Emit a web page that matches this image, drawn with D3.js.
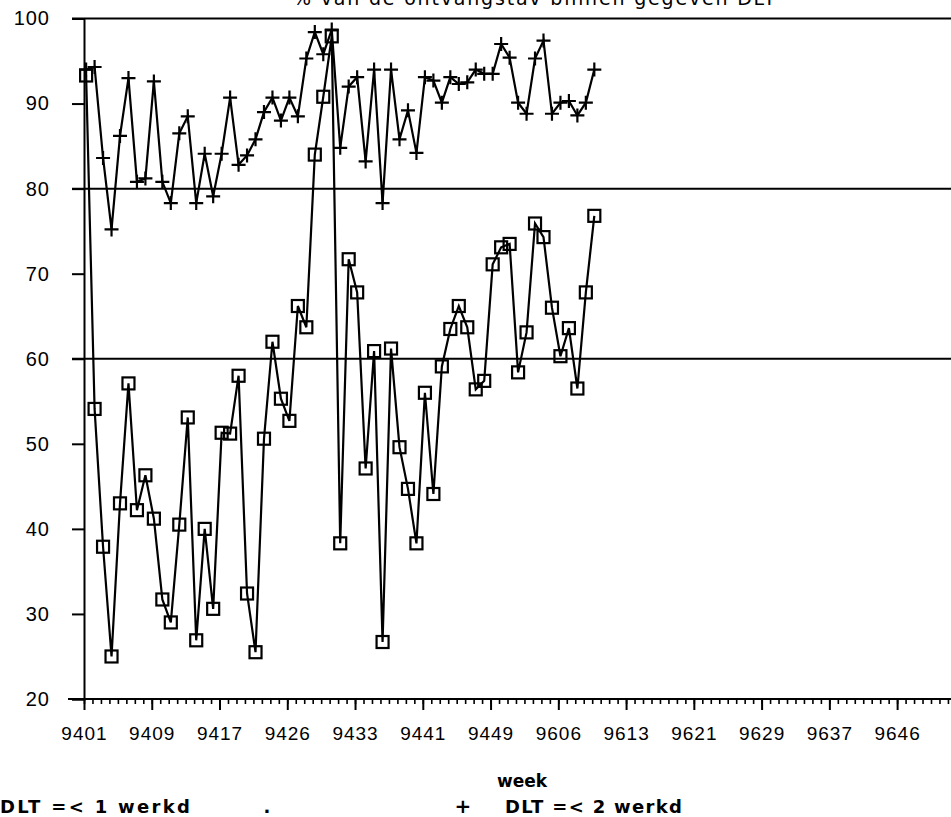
<!DOCTYPE html>
<html>
<head>
<meta charset="utf-8">
<script src="https://cdn.jsdelivr.net/npm/d3@7"></script>
<style>
  body { margin: 0; background: #fff; }
  svg { display: block; font-family: "DejaVu Sans", sans-serif; }
</style>
</head>
<body>
<svg id="chart" width="951" height="817"></svg>
<script>
// weeks are counted from 9401 (index 0), one tick per week
const weekCount = 103;
const tickLabels = ['9401', '9409', '9417', '9426', '9433', '9441', '9449', '9606', '9613', '9621', '9629', '9637', '9646'];
const yTicks = [30, 40, 50, 70, 90];
const yGrid = [60, 80, 100];

// DLT =< 1 werkd (squares)
const dlt1 = [93.3, 54.1, 37.9, 25.0, 43.0, 57.1, 42.2, 46.3, 41.2, 31.7,
  29.0, 40.5, 53.1, 26.9, 40.0, 30.6, 51.3, 51.2, 58.0, 32.4,
  25.5, 50.6, 62.0, 55.3, 52.7, 66.2, 63.7, 84.0, 90.8, 97.9,
  38.3, 71.7, 67.8, 47.1, 60.9, 26.7, 61.2, 49.6, 44.7, 38.3,
  56.0, 44.1, 59.1, 63.5, 66.2, 63.7, 56.4, 57.4, 71.1, 73.1,
  73.5, 58.4, 63.1, 75.9, 74.3, 66.0, 60.3, 63.6, 56.5, 67.8, 76.8];

// DLT =< 2 werkd (plus)
const dlt2 = [94.0, 94.3, 83.6, 75.2, 86.2, 93.0, 80.8, 81.2, 92.6, 80.8,
  78.3, 86.5, 88.5, 78.3, 84.1, 79.1, 84.1, 90.7, 82.8, 83.9,
  85.8, 89.0, 90.7, 88.0, 90.7, 88.5, 95.3, 98.4, 95.8, 98.7,
  84.8, 92.0, 93.1, 83.2, 94.0, 78.3, 94.0, 85.8, 89.2, 84.2,
  93.1, 92.7, 90.1, 93.1, 92.3, 92.5, 94.0, 93.5, 93.5, 97.0,
  95.4, 90.1, 88.8, 95.3, 97.4, 88.8, 90.1, 90.3, 88.6, 90.1, 94.0];

const svg = d3.select('#chart');
const x0 = 84, right = 951;

const x = d3.scaleLinear().domain([0, 1]).range([x0, x0 + 8.47]);
const y = d3.scaleLinear().domain([20, 100]).range([699, 18.5]);

/*标题 (cut off at the top, as in the print)*/
svg.append('text')
  .attr('x', 293).attr('y', 5)
  .attr('textLength', 482).attr('lengthAdjust', 'spacing')
  .style('font-size', '19px')
  .text('% van de ontvangstav binnen gegeven DLT');

/*gridlines*/
svg.append('g').selectAll('line')
  .data(yGrid)
  .enter().append('line')
  .attr('x1', 72).attr('x2', right)
  .attr('y1', d => y(d)).attr('y2', d => y(d))
  .attr('stroke', '#000').attr('stroke-width', 2);

/*y axis*/
const yAxis = d3.axisLeft(y).tickValues(yTicks.concat(yGrid, [20]))
  .tickSize(12).tickPadding(22).tickFormat(d3.format('d'));
const gy = svg.append('g').attr('transform', `translate(${x0},0)`).call(yAxis);
gy.select('.domain').attr('stroke-width', 2);
gy.selectAll('.tick line').attr('stroke-width', 2);
gy.selectAll('.tick text').style('font-size', '20px').style('letter-spacing', '1px').attr('fill', '#000');

/*x axis: weekly ticks, labels every 8 weeks*/
const minor = d3.axisBottom(x).tickValues(d3.range(0, weekCount)).tickSize(5).tickFormat('');
const gx = svg.append('g').attr('transform', `translate(0,${y(20)})`).call(minor);
gx.select('.domain').remove();
gx.selectAll('.tick line').attr('stroke-width', 1.6);

const major = d3.axisBottom(x).tickValues(tickLabels.map((d, i) => i * 8))
  .tickSize(11).tickPadding(17).tickFormat((d, i) => tickLabels[i]);
const gm = svg.append('g').attr('transform', `translate(0,${y(20)})`).call(major);
gm.select('.domain').remove();
gm.selectAll('.tick line').attr('stroke-width', 2);
gm.selectAll('.tick text').style('font-size', '19px').style('letter-spacing', '1px').attr('fill', '#000');

svg.append('line')
  .attr('x1', 68).attr('x2', right)
  .attr('y1', y(20)).attr('y2', y(20))
  .attr('stroke', '#000').attr('stroke-width', 2);

/*series*/
const px = (d, i) => x(i + 0.25);
const line = d3.line().x(px).y(d => y(d));

svg.append('path').datum(dlt1)
  .attr('d', line).attr('fill', 'none')
  .attr('stroke', '#000').attr('stroke-width', 2.2);
svg.append('path').datum(dlt2)
  .attr('d', line).attr('fill', 'none')
  .attr('stroke', '#000').attr('stroke-width', 2.2);

svg.append('g').selectAll('rect')
  .data(dlt1)
  .enter().append('rect')
  .attr('x', (d, i) => px(d, i) - 6).attr('y', d => y(d) - 6)
  .attr('width', 12).attr('height', 12)
  .attr('fill', 'none').attr('stroke', '#000').attr('stroke-width', 2.2);

svg.append('g').selectAll('path')
  .data(dlt2)
  .enter().append('path')
  .attr('d', (d, i) => {
    let cx = px(d, i), cy = y(d);
    return `M${cx - 7},${cy}H${cx + 7}M${cx},${cy - 7}V${cy + 7}`;
  })
  .attr('stroke', '#000').attr('stroke-width', 2.2);

/*legend*/
svg.append('text').attr('x', 522).attr('y', 787)
  .attr('text-anchor', 'middle')
  .style('font-size', '17px').style('font-weight', 'bold')
  .text('week');

svg.append('text').attr('x', 0).attr('y', 813)
  .attr('textLength', 190).attr('lengthAdjust', 'spacing')
  .style('font-size', '18px').style('font-weight', 'bold')
  .text('DLT =< 1 werkd');
svg.append('text').attr('x', 267).attr('y', 813)
  .attr('text-anchor', 'middle')
  .style('font-size', '18px').style('font-weight', 'bold')
  .text('.');
svg.append('text').attr('x', 463).attr('y', 813)
  .attr('text-anchor', 'middle')
  .style('font-size', '20px').style('font-weight', 'bold')
  .text('+');
svg.append('text').attr('x', 505).attr('y', 813)
  .attr('textLength', 177).attr('lengthAdjust', 'spacing')
  .style('font-size', '18px').style('font-weight', 'bold')
  .text('DLT =< 2 werkd');
</script>
</body>
</html>
